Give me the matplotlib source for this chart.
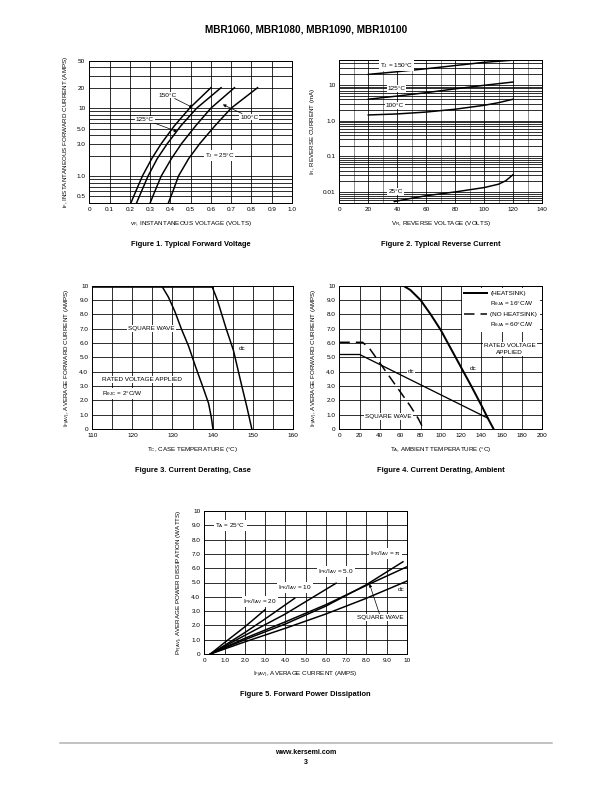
import matplotlib.pyplot as plt
import numpy as np
from matplotlib.lines import Line2D
from matplotlib.ticker import FixedLocator, NullFormatter, MultipleLocator

plt.rcParams['font.family'] = ['Liberation Sans', 'DejaVu Sans']
plt.rcParams['mathtext.default'] = 'regular'

# ---- Figure 1: typical forward voltage (log current vs voltage)
fwd_current = [0.4, 0.6, 1.0, 1.8, 3.0, 5.5, 10, 20]
fwd_v150 = [0.205, 0.230, 0.262, 0.308, 0.355, 0.420, 0.495, 0.600]
fwd_v125 = [0.233, 0.258, 0.290, 0.335, 0.385, 0.452, 0.530, 0.650]
fwd_v100 = [0.300, 0.324, 0.355, 0.405, 0.455, 0.525, 0.600, 0.716]
fwd_v25 = [0.390, 0.413, 0.440, 0.490, 0.545, 0.620, 0.700, 0.830]
fwd_xticks = [0, 0.1, 0.2, 0.3, 0.4, 0.5, 0.6, 0.7, 0.8, 0.9, 1.0]
fwd_yticks = [0.5, 1.0, 3.0, 5.0, 10, 20, 50]
fwd_ylabels = ['0.5', '1.0', '3.0', '5.0', '10', '20', '50']

# ---- Figure 2: typical reverse current
rev_v150 = [20, 40, 60, 80, 100, 120]
rev_i150 = [19.8, 23.5, 28.5, 35, 43, 49.5]
rev_v125 = [20, 40, 60, 80, 100, 120]
rev_i125 = [4.0, 4.9, 6.1, 7.8, 9.8, 12.1]
rev_v100 = [20, 40, 60, 80, 100, 110, 120]
rev_i100 = [1.45, 1.55, 1.75, 2.1, 2.7, 3.2, 4.0]
rev_v25 = [38, 50, 60, 80, 100, 110, 115, 120]
rev_i25 = [0.0055, 0.0068, 0.0080, 0.0102, 0.0135, 0.0168, 0.021, 0.031]
rev_xticks = [0, 20, 40, 60, 80, 100, 120, 140]
rev_yticks = [0.01, 0.1, 1.0, 10]
rev_ylabels = ['0.01', '0.1', '1.0', '10']

# ---- Figure 3: current derating, case
case_sq_t = [110, 127.3, 129, 130.6, 132.2, 134, 135.7, 137.5, 139, 139.7, 140.1]
case_sq_i = [10, 10, 9.2, 8.2, 7.0, 5.8, 4.4, 3.0, 1.8, 0.8, 0]
case_dc_t = [110, 139.8, 141.2, 143.4, 145.2, 147.3, 148.6, 149.8]
case_dc_i = [10, 10, 9.0, 7.0, 5.5, 3.0, 1.5, 0]

# ---- Figure 4: current derating, ambient
amb_hs_t = [0, 63, 70, 80, 90, 100, 110, 120, 130, 140, 146, 152]
amb_hs_i = [10, 10, 9.7, 9.0, 8.0, 6.9, 5.6, 4.3, 3.0, 1.65, 0.8, 0]
amb_dc_t = [0, 20, 146.5]
amb_dc_i = [5.2, 5.2, 0.75]
amb_sq_t = [0, 23, 30, 40, 50, 60, 70, 78, 83]
amb_sq_i = [6.05, 6.05, 5.6, 4.6, 3.6, 2.6, 1.6, 0.7, 0]

# ---- Figure 5: forward power dissipation
pwr_i20 = [0.3, 1.0, 2.0, 3.0]
pwr_p20 = [0, 0.8, 1.9, 3.1]
pwr_i10 = [0.3, 1.0, 2.0, 3.0, 4.46]
pwr_p10 = [0, 0.6, 1.5, 2.45, 3.9]
pwr_i5 = [0.3, 2.0, 4.0, 6.5]
pwr_p5 = [0, 1.3, 2.8, 4.95]
pwr_ipi = [0.3, 2.0, 4.0, 6.0, 8.0, 9.8]
pwr_ppi = [0, 1.0, 2.1, 3.35, 4.85, 6.45]
pwr_isq = [0.3, 2.0, 4.0, 6.0, 8.0, 10.0]
pwr_psq = [0, 1.1, 2.25, 3.45, 4.8, 6.1]
pwr_idc = [0.3, 2.0, 4.0, 6.0, 8.0, 10.0]
pwr_pdc = [0, 0.85, 1.8, 2.8, 3.9, 5.1]

lin_ticks = [0, 1, 2, 3, 4, 5, 6, 7, 8, 9, 10]
lin_labels = ['0', '1.0', '2.0', '3.0', '4.0', '5.0', '6.0', '7.0', '8.0', '9.0', '10']

W, H = 612, 792
fig = plt.figure(figsize=(W / 72, H / 72), dpi=72)


def box(l, t, r, b):
    return [l / W, 1 - b / H, (r - l) / W, (b - t) / H]


def style(ax):
    for s in ax.spines.values():
        s.set_linewidth(1.0)
    ax.tick_params(which='both', length=0, labelsize=6.4, pad=4)
    ax.grid(which='both', color='k', lw=0.8)
    ax.set_axisbelow(True)


def caption(ax, y, text):
    p = ax.get_position()
    fig.text(p.x0 + p.width / 2, 1 - y / H, text, ha='center', va='center',
             fontsize=7.5, weight='bold')


lab = dict(fontsize=6.2)
fs = 6.4
wbox = dict(boxstyle='square,pad=0.15', fc='white', ec='none')
arrow = dict(arrowstyle='-|>', lw=0.7, color='k', mutation_scale=6, shrinkA=0, shrinkB=0)

# Figure 1
ax1 = fig.add_axes(box(89.3, 60.7, 292, 203))
ax1.set_yscale('log')
for v in (fwd_v150, fwd_v125, fwd_v100, fwd_v25):
    ax1.plot(v, fwd_current, color='k', lw=1.5)
ax1.set_xlim(0, 1.0)
ax1.set_ylim(0.4, 50)
ax1.set_xticks(fwd_xticks)
ax1.set_xticklabels(['0', '0.1', '0.2', '0.3', '0.4', '0.5', '0.6', '0.7', '0.8', '0.9', '1.0'])
ax1.yaxis.set_major_locator(FixedLocator(fwd_yticks))
ax1.set_yticklabels(fwd_ylabels)
ax1.yaxis.set_minor_locator(FixedLocator([0.4, 0.6, 0.7, 0.8, 0.9, 2, 4, 6, 7, 8, 9, 30, 40]))
ax1.yaxis.set_minor_formatter(NullFormatter())
style(ax1)
ax1.set_xlabel('v$_F$, INSTANTANEOUS VOLTAGE (VOLTS)', labelpad=7, **lab)
ax1.set_ylabel('i$_F$, INSTANTANEOUS FORWARD CURRENT (AMPS)', labelpad=6, **lab)
ax1.annotate('150°C', xy=(0.51, 10.2), xytext=(0.387, 15.6), ha='center', va='center',
             fontsize=fs, bbox=wbox, arrowprops=arrow)
ax1.annotate('125°C', xy=(0.434, 4.5), xytext=(0.274, 6.8), ha='center', va='center',
             fontsize=fs, bbox=wbox, arrowprops=arrow)
ax1.annotate('100°C', xy=(0.659, 11.3), xytext=(0.79, 7.4), ha='center', va='center',
             fontsize=fs, bbox=wbox, arrowprops=arrow)
ax1.text(0.643, 2.03, 'T$_J$ = 25°C', ha='center', va='center', fontsize=fs, bbox=wbox)
caption(ax1, 244, 'Figure 1. Typical Forward Voltage')

# Figure 2
ax2 = fig.add_axes(box(339.3, 60, 542, 203))
ax2.set_yscale('log')
ax2.plot(rev_v150, rev_i150, color='k', lw=1.5)
ax2.plot(rev_v125, rev_i125, color='k', lw=1.5)
ax2.plot(rev_v100, rev_i100, color='k', lw=1.5)
ax2.plot(rev_v25, rev_i25, color='k', lw=1.5)
ax2.set_xlim(0, 140)
ax2.set_ylim(0.005, 50)
ax2.set_xticks(rev_xticks)
ax2.xaxis.set_minor_locator(MultipleLocator(10))
ax2.yaxis.set_major_locator(FixedLocator(rev_yticks))
ax2.set_yticklabels(rev_ylabels)
minors = [m * d for d in (0.001, 0.01, 0.1, 1, 10) for m in range(2, 10)]
ax2.yaxis.set_minor_locator(FixedLocator(minors))
ax2.yaxis.set_minor_formatter(NullFormatter())
style(ax2)
ax2.grid(which='minor', axis='x', color='#777', lw=0.8)
ax2.set_xlabel('V$_R$, REVERSE VOLTAGE (VOLTS)', labelpad=7, **lab)
ax2.set_ylabel('I$_R$, REVERSE CURRENT (mA)', labelpad=6, **lab)
ax2.text(39.5, 36, 'T$_J$ = 150°C', ha='center', va='center', fontsize=fs, bbox=wbox)
ax2.text(39.5, 8.1, '125°C', ha='center', va='center', fontsize=fs, bbox=wbox)
ax2.text(38.4, 2.6, '100°C', ha='center', va='center', fontsize=fs, bbox=wbox)
ax2.text(38.9, 0.0105, '25°C', ha='center', va='center', fontsize=fs, bbox=wbox)
caption(ax2, 244, 'Figure 2. Typical Reverse Current')

# Figure 3
ax3 = fig.add_axes(box(92.3, 285.7, 292.7, 429))
ax3.plot(case_sq_t, case_sq_i, color='k', lw=1.5)
ax3.plot(case_dc_t, case_dc_i, color='k', lw=1.5)
ax3.plot([case_dc_t[0], case_dc_t[1]], [case_dc_i[0], case_dc_i[1]], color='k', lw=2.6)
ax3.set_xlim(110, 160)
ax3.set_ylim(0, 10)
ax3.set_xticks([110, 120, 130, 140, 150, 160])
ax3.xaxis.set_minor_locator(MultipleLocator(5))
ax3.set_yticks(lin_ticks)
ax3.set_yticklabels(lin_labels)
style(ax3)
ax3.set_xlabel('T$_C$, CASE TEMPERATURE (°C)', labelpad=7, **lab)
ax3.set_ylabel('I$_{F(AV)}$, AVERAGE FORWARD CURRENT (AMPS)', labelpad=6, **lab)
ax3.text(124.8, 7.0, 'SQUARE WAVE', ha='center', va='center', fontsize=fs, bbox=wbox)
ax3.text(147.3, 5.6, 'dc', ha='center', va='center', fontsize=fs, bbox=wbox)
ax3.text(112.4, 3.45, 'RATED VOLTAGE APPLIED', ha='left', va='center', fontsize=fs, bbox=wbox)
ax3.text(112.4, 2.5, 'R$_{θJC}$ = 2°C/W', ha='left', va='center', fontsize=fs, bbox=wbox)
caption(ax3, 470, 'Figure 3. Current Derating, Case')

# Figure 4
ax4 = fig.add_axes(box(339.3, 285.7, 542.3, 429))
hs, = ax4.plot(amb_hs_t, amb_hs_i, color='k', lw=2.0)
ax4.plot(amb_dc_t, amb_dc_i, color='k', lw=1.3)
nohs, = ax4.plot(amb_sq_t, amb_sq_i, color='k', lw=1.5, ls=(0, (7, 4)))
ax4.set_xlim(0, 200)
ax4.set_ylim(0, 10)
ax4.set_xticks(list(range(0, 201, 20)))
ax4.set_yticks(lin_ticks)
ax4.set_yticklabels(lin_labels)
style(ax4)
ax4.set_xlabel('T$_A$, AMBIENT TEMPERATURE (°C)', labelpad=7, **lab)
ax4.set_ylabel('I$_{F(AV)}$, AVERAGE FORWARD CURRENT (AMPS)', labelpad=6, **lab)
blank = Line2D([], [], color='none')
leg = ax4.legend([hs, blank, nohs, blank],
                 ['(HEATSINK)', 'R$_{θJA}$ = 16°C/W', '(NO HEATSINK)', 'R$_{θJA}$ = 60°C/W'],
                 loc='upper right', fontsize=fs, handlelength=3.6, handletextpad=0.5,
                 labelspacing=0.5, borderaxespad=0.4, fancybox=False, framealpha=1,
                 facecolor='white', edgecolor='none')
ax4.text(168, 5.6, 'RATED VOLTAGE\nAPPLIED', ha='center', va='center', fontsize=fs,
         linespacing=1.6, bbox=wbox)
ax4.text(70.6, 4.0, 'dc', ha='center', va='center', fontsize=fs, bbox=wbox)
ax4.text(132, 4.25, 'dc', ha='center', va='center', fontsize=fs, bbox=wbox)
ax4.text(48.3, 0.88, 'SQUARE WAVE', ha='center', va='center', fontsize=fs, bbox=wbox)
caption(ax4, 470, 'Figure 4. Current Derating, Ambient')

# Figure 5
ax5 = fig.add_axes(box(204.3, 511, 407, 654))
for xi, yi in ((pwr_i20, pwr_p20), (pwr_i10, pwr_p10), (pwr_i5, pwr_p5),
               (pwr_ipi, pwr_ppi), (pwr_isq, pwr_psq), (pwr_idc, pwr_pdc)):
    ax5.plot(xi, yi, color='k', lw=1.5)
ax5.set_xlim(0, 10)
ax5.set_ylim(0, 10)
ax5.set_xticks(lin_ticks)
ax5.set_xticklabels(lin_labels)
ax5.set_yticks(lin_ticks)
ax5.set_yticklabels(lin_labels)
style(ax5)
ax5.set_xlabel('I$_{F(AV)}$, AVERAGE CURRENT (AMPS)', labelpad=7, **lab)
ax5.set_ylabel('P$_{F(AV)}$, AVERAGE POWER DISSIPATION (WATTS)', labelpad=6, **lab)
ax5.text(0.55, 9.0, 'T$_A$ = 25°C', ha='left', va='center', fontsize=fs, bbox=wbox)
ax5.text(2.74, 3.7, 'I$_{PK}$/I$_{AV}$ = 20', ha='center', va='center', fontsize=fs, bbox=wbox)
ax5.text(4.46, 4.67, 'I$_{PK}$/I$_{AV}$ = 10', ha='center', va='center', fontsize=fs, bbox=wbox)
ax5.text(6.5, 5.77, 'I$_{PK}$/I$_{AV}$ = 5.0', ha='center', va='center', fontsize=fs, bbox=wbox)
ax5.text(8.95, 7.05, 'I$_{PK}$/I$_{AV}$ = π', ha='center', va='center', fontsize=fs, bbox=wbox)
ax5.text(9.7, 4.5, 'dc', ha='center', va='center', fontsize=fs, bbox=wbox)
ax5.annotate('SQUARE WAVE', xy=(8.15, 4.9), xytext=(8.7, 2.55), ha='center', va='center',
             fontsize=fs, bbox=wbox, arrowprops=arrow)
caption(ax5, 695, 'Figure 5. Forward Power Dissipation')

# page header and footer
fig.text(0.5, 1 - 30 / H, 'MBR1060, MBR1080, MBR1090, MBR10100', ha='center', va='center',
         fontsize=10, weight='bold')
fig.add_artist(Line2D([60 / W, 552 / W], [1 - 743 / H] * 2, color='#b0b0b0', lw=1.5))
fig.text(0.5, 1 - 752 / H, 'www.kersemi.com', ha='center', va='center', fontsize=7, weight='bold')
fig.text(0.5, 1 - 762 / H, '3', ha='center', va='center', fontsize=7, weight='bold')

fig.savefig('out.png', dpi=72)
